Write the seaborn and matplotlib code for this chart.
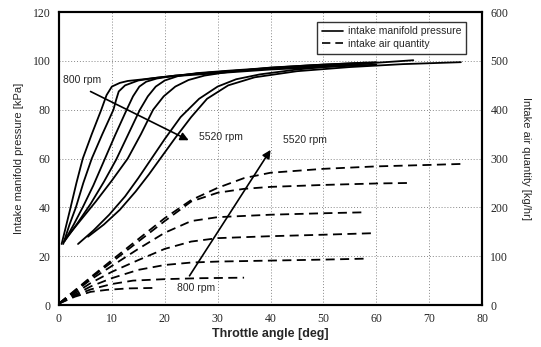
import matplotlib
matplotlib.use("Agg")
import matplotlib.pyplot as plt
from matplotlib.lines import Line2D
import seaborn as sns
import pandas as pd

# intake manifold pressure curves [deg] / [kPa], 800 rpm -> 5520 rpm
p1_deg = [0.5, 1.3, 2.2, 3.3, 4.5, 6.2, 8, 9, 10, 11.5, 13, 16, 20, 30, 40, 50, 60]
p1_kpa = [25, 32, 40, 50, 60, 70, 80, 86, 89.5, 91, 91.8, 92.5, 93.5, 95, 96.5, 97.5, 98.5]
p2_deg = [0.8, 2, 3.2, 4.6, 6.2, 8.2, 10.3, 10.8, 11.3, 12.5, 15, 18, 22, 30, 40, 50, 58]
p2_kpa = [25, 33, 40, 50, 60, 70, 80, 84, 87.5, 90, 92, 93, 94, 95.5, 97, 98, 99]
p3_deg = [1, 2.8, 4.6, 6.5, 8.5, 10.6, 12.8, 14, 15.2, 16.5, 18.5, 22, 27, 35, 45, 59]
p3_kpa = [26, 33, 40.5, 49, 59, 69.5, 80, 85.5, 89.5, 91.5, 92.8, 94, 95, 96.2, 97.5, 99]
p4_deg = [1, 3.5, 6, 8.5, 10.8, 13, 15.3, 16.8, 18.3, 20, 22.5, 26, 32, 40, 48, 58]
p4_kpa = [26, 33.5, 41.5, 50.5, 59.5, 69.5, 80, 85.5, 89.5, 92, 93.8, 95, 96, 97.2, 98.3, 99.3]
p5_deg = [1.2, 4, 7, 10, 13, 15.5, 17.8, 19.8, 22, 24.5, 27.5, 32, 40, 50, 60]
p5_kpa = [27, 34.5, 42.5, 51, 60, 70, 80, 85.5, 89.5, 92.2, 94, 95.5, 97.3, 98.5, 99.5]
p6_deg = [3.6, 6.5, 9.5, 12.5, 15, 17.5, 20, 23, 26.5, 30, 33.5, 38, 45, 55, 67]
p6_kpa = [25, 30.5, 37, 44.5, 52, 60, 68, 77, 84.5, 89.5, 92.5, 94.5, 96.5, 98.5, 100.3]
p7_deg = [5.5, 8.5, 11.5, 14.5, 17, 19.5, 22, 25, 28, 32, 37, 45, 55, 65, 76]
p7_kpa = [28, 33, 39, 46.5, 53.5, 61, 68.5, 77, 84.5, 90, 93.3, 95.8, 97.5, 98.7, 99.5]

# intake air quantity curves [deg] / [kg/hr]
q1_deg = [0, 3, 6, 9, 13, 18]
q1_kgh = [3, 17, 27, 31, 34, 35]
q2_deg = [0, 3, 6, 10, 14, 20, 27, 35]
q2_kgh = [3, 19, 32, 43, 50, 53, 55, 56]
q3_deg = [0, 3, 6, 10, 15, 20, 25, 30, 40, 50, 58]
q3_kgh = [3, 21, 38, 55, 72, 82, 87, 89, 91, 93, 95]
q4_deg = [0, 3, 6, 10, 15, 20, 25, 30, 40, 50, 59]
q4_kgh = [3, 24, 45, 68, 92, 115, 130, 137, 141, 144, 147]
q5_deg = [0, 3, 6, 10, 15, 20, 25, 30, 40, 50, 58]
q5_kgh = [3, 27, 52, 80, 115, 148, 172, 180, 185, 188, 190]
q6_deg = [0, 3, 6, 10, 15, 20, 25, 30, 35, 40, 50, 60, 66]
q6_kgh = [3, 29, 55, 88, 130, 172, 212, 230, 238, 242, 246, 249, 250]
q7_deg = [0, 3, 6, 10, 15, 20, 25, 30, 35, 40, 50, 60, 70, 76]
q7_kgh = [3, 30, 57, 92, 135, 178, 215, 240, 260, 271, 279, 284, 287, 289]

pressure = [(p1_deg, p1_kpa), (p2_deg, p2_kpa), (p3_deg, p3_kpa), (p4_deg, p4_kpa),
            (p5_deg, p5_kpa), (p6_deg, p6_kpa), (p7_deg, p7_kpa)]
airflow = [(q1_deg, q1_kgh), (q2_deg, q2_kgh), (q3_deg, q3_kgh), (q4_deg, q4_kgh),
           (q5_deg, q5_kgh), (q6_deg, q6_kgh), (q7_deg, q7_kgh)]

sns.set_style("white")
plt.rcParams['font.family'] = ['Liberation Sans', 'DejaVu Sans']

fig = plt.figure(figsize=(5.41, 3.47), dpi=100)
ax = fig.add_axes([0.109, 0.121, 0.782, 0.844])
ax2 = ax.twinx()

for x, y in pressure:
    df = pd.DataFrame({"deg": x, "val": y})
    sns.lineplot(data=df, x="deg", y="val", ax=ax, color="black", lw=1.3,
                 sort=False, estimator=None, legend=False)

for x, y in airflow:
    df = pd.DataFrame({"deg": x, "val": y})
    sns.lineplot(data=df, x="deg", y="val", ax=ax2, color="black", lw=1.3,
                 sort=False, estimator=None, legend=False)
    ax2.lines[-1].set_linestyle((0, (5, 3)))

ax.set_xlim(0, 80)
ax.set_ylim(0, 120)
ax2.set_ylim(0, 600)
ax.set_xticks(range(0, 81, 10))
ax.set_yticks(range(0, 121, 20))
ax2.set_yticks(range(0, 601, 100))
ax.grid(True, linestyle=(0, (1, 2)), color="#888888", lw=0.7)

for a in (ax, ax2):
    a.tick_params(length=0, labelsize=8.5, pad=6)
    for lab in a.get_xticklabels() + a.get_yticklabels():
        lab.set_fontfamily("Liberation Serif")
    for s in a.spines.values():
        s.set_color("black")
        s.set_linewidth(1.5)

ax.set_xlabel("Throttle angle [deg]", fontsize=9, fontweight="bold", labelpad=2)
ax.set_ylabel("Intake manifold pressure [kPa]", fontsize=8, labelpad=6)
ax2.set_ylabel("Intake air quantity [kg/hr]", fontsize=8, rotation=270, labelpad=16)

handles = [Line2D([], [], color="black", lw=1.2),
           Line2D([], [], color="black", lw=1.2, linestyle=(0, (5, 3)))]
leg = ax2.legend(handles, ["intake manifold pressure", "intake air quantity"],
                 loc="upper right", bbox_to_anchor=(0.975, 0.985), fontsize=7.5,
                 frameon=True, fancybox=False, handlelength=2.0, borderpad=0.45,
                 labelspacing=0.25, handletextpad=0.5)
leg.get_frame().set_edgecolor("black")
leg.get_frame().set_linewidth(1.0)

arrow = dict(arrowstyle="-|>", color="black", lw=1.2, mutation_scale=12)
ax.annotate("", xy=(25, 67), xytext=(5.5, 88), arrowprops=arrow)
ax.text(0.8, 92, "800 rpm", fontsize=7.5, va="center")
ax.text(26.5, 69, "5520 rpm", fontsize=7.5, va="center")
ax.annotate("", xy=(40.3, 64.5), xytext=(24.4, 11), arrowprops=arrow)
ax.text(22.3, 7, "800 rpm", fontsize=7.5, va="center")
ax.text(42.4, 67.5, "5520 rpm", fontsize=7.5, va="center")

fig.savefig("out.png", dpi=100)
